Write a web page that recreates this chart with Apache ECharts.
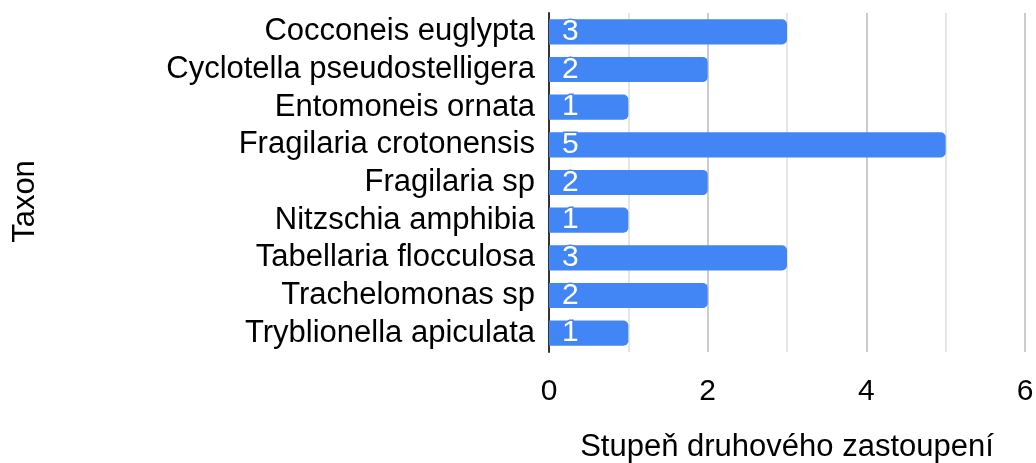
<!DOCTYPE html>
<html>
<head>
<meta charset="utf-8">
<script src="https://cdn.jsdelivr.net/npm/echarts@6/dist/echarts.min.js"></script>
<style>
  html, body { margin: 0; padding: 0; background: #fff; }
  #chart { width: 1036px; height: 463px; }
</style>
</head>
<body>
<div id="chart"></div>
<script>
  // taxa, top to bottom as in the picture
  var taxa = [
    'Cocconeis euglypta',
    'Cyclotella pseudostelligera',
    'Entomoneis ornata',
    'Fragilaria crotonensis',
    'Fragilaria sp',
    'Nitzschia amphibia',
    'Tabellaria flocculosa',
    'Trachelomonas sp',
    'Tryblionella apiculata'
  ]
  var stupen = [3, 2, 1, 5, 2, 1, 3, 2, 1]

  var fontFam = 'Arial, "Liberation Sans", sans-serif'
  var blue = '#4285F4'

  var chart = echarts.init(document.getElementById('chart'))
  chart.setOption({
    animation: false,
    textStyle: { fontFamily: fontFam },
    grid: {
      left: 549,
      right: 11,
      top: 13,
      bottom: 111,
      outerBoundsMode: 'none',
      containLabel: false
    },
    xAxis: {
      type: 'value',
      min: 0,
      max: 6,
      interval: 2,
      name: 'Stupeň druhového zastoupení',
      nameLocation: 'middle',
      nameGap: 80,
      nameTextStyle: { fontSize: 31, color: '#000', fontFamily: fontFam },
      axisLine: { show: false },
      axisTick: { show: false },
      axisLabel: { fontSize: 30, color: '#000', margin: 25, fontFamily: fontFam },
      splitLine: { lineStyle: { color: '#cccccc', width: 2 } },
      minorTick: { show: false, splitNumber: 2 },
      minorSplitLine: { show: true, lineStyle: { color: '#e6e6e6', width: 2 } }
    },
    yAxis: {
      type: 'category',
      data: taxa,
      inverse: true,
      name: 'Taxon',
      nameLocation: 'middle',
      nameGap: 508,
      nameRotate: 90,
      nameTextStyle: { fontSize: 31, color: '#000', fontFamily: fontFam, padding: [0, 38, 0, 0] },
      axisLine: { show: true, lineStyle: { color: '#333', width: 2 } },
      axisTick: { show: false },
      axisLabel: { interval: 0, fontSize: 31, color: '#000', margin: 14, fontFamily: fontFam }
    },
    series: [
      {
        name: 'Stupeň druhového zastoupení',
        type: 'bar',
        data: stupen,
        barCategoryGap: '33%',
        itemStyle: {
          color: blue,
          borderRadius: [0, 5, 5, 0]
        },
        label: {
          show: true,
          position: 'insideLeft',
          distance: 13,
          fontSize: 30,
          color: '#fff',
          fontFamily: fontFam,
          textBorderColor: blue,
          textBorderWidth: 3
        }
      }
    ]
  })
</script>
</body>
</html>
